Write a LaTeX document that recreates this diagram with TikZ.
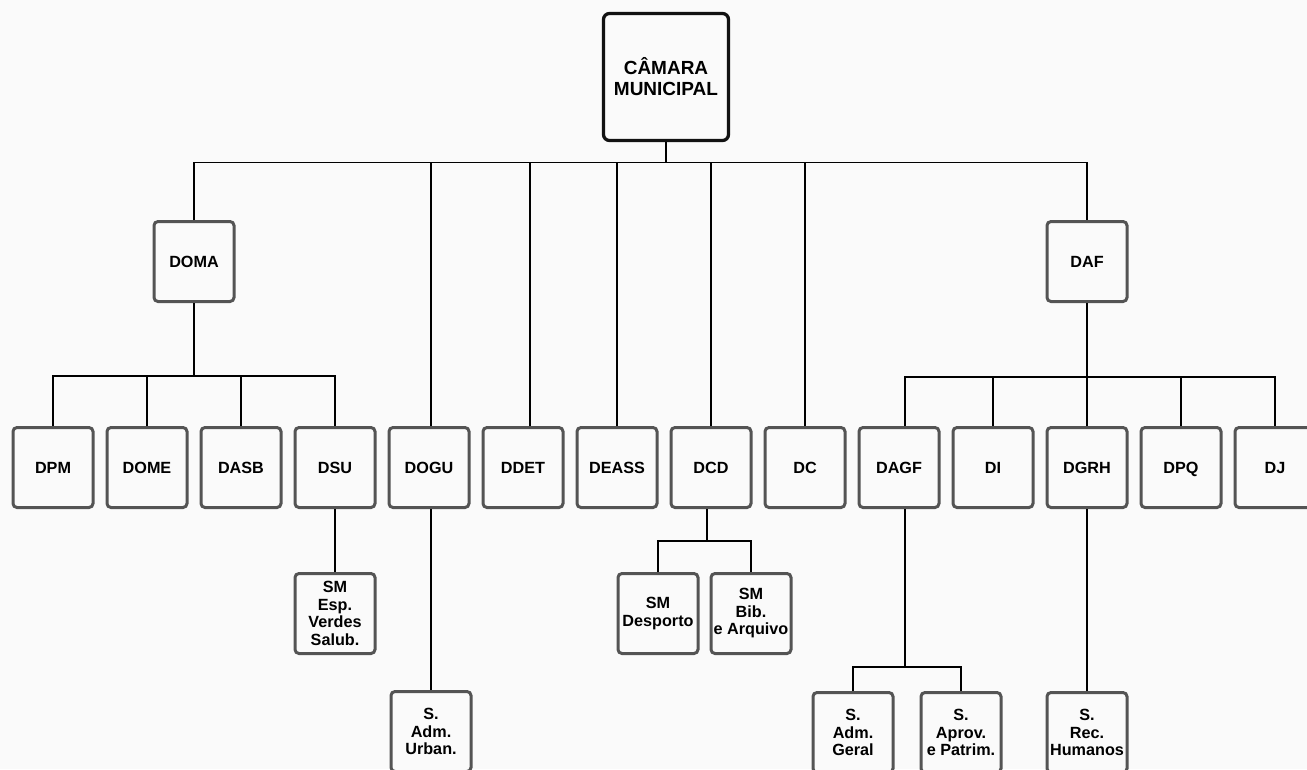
\documentclass[tikz,border=0pt]{standalone}
\usepackage{fontspec}
\setmainfont{Liberation Sans}
\usetikzlibrary{positioning,calc}
\definecolor{cBox}{rgb}{0.33,0.33,0.33}
\definecolor{cTop}{rgb}{0.07,0.07,0.07}
\definecolor{cBg}{rgb}{0.98,0.98,0.98}
\tikzset{mybox/.style={
  shape=rectangle,
  draw=cBox,
  fill=cBg,
  line width=3pt,
  rounded corners=4pt,
  minimum width=80pt,
  minimum height=80pt,
  inner sep=1pt,
  align=center,
  font=\fontsize{16.2}{17.5}\selectfont\bfseries,
  text = black,
  }
}
\tikzset{mytop/.style={
  shape=rectangle,
  draw=cTop,
  fill=cBg,
  line width=3.3pt,
  rounded corners=6pt,
  minimum width=125pt,
  minimum height=127pt,
  inner sep=1pt,
  align=center,
  font=\fontsize{19}{21}\selectfont\bfseries,
  text = black,
  }
}
\tikzset{myline/.style={
  draw=black,
  line width=1.3pt,
  }
}

\begin{document}
\begin{tikzpicture}[x=1pt,y=1pt]
      \useasboundingbox (0,0) rectangle (1307,-769);
      \clip (0,0) rectangle (1307,-769);
      \fill [cBg] (0,0) rectangle (1307,-769);

      \node [mytop] (cm) at (666,-77) {CÂMARA\\MUNICIPAL};
      \node [mybox] (dpm) at (53,-467.5) {DPM};
      \node [right = 11pt of dpm, mybox] (dome) {DOME};
      \node [right = 11pt of dome, mybox] (dasb) {DASB};
      \node [right = 11pt of dasb, mybox] (dsu) {DSU};
      \node [right = 11pt of dsu, mybox] (dogu) {DOGU};
      \node [right = 11pt of dogu, mybox] (ddet) {DDET};
      \node [right = 11pt of ddet, mybox] (deass) {DEASS};
      \node [right = 11pt of deass, mybox] (dcd) {DCD};
      \node [right = 11pt of dcd, mybox] (dc) {DC};
      \node [right = 11pt of dc, mybox] (dagf) {DAGF};
      \node [right = 11pt of dagf, mybox] (di) {DI};
      \node [right = 11pt of di, mybox] (dgrh) {DGRH};
      \node [right = 11pt of dgrh, mybox, text depth=0pt] (dpq) {DPQ};
      \node [right = 11pt of dpq, mybox] (dj) {DJ};
      \node [above = 123pt of dgrh, mybox] (daf) {DAF};
      \node [left = 810pt of daf, mybox] (doma) {DOMA};
      \node [below = 63pt of dsu, mybox] (smesp) {SM\\Esp.\\Verdes\\Salub.};
      \node [below = 181pt of dogu, xshift=2pt, mybox] (sadmu) {S.\\Adm.\\Urban.};
      \node [below = 63pt of dcd, xshift=40pt, mybox] (smbib) {SM\\Bib.\\e Arquivo};
      \node [left = 10pt of smbib, mybox] (smdesp) {SM\\Desporto};
      \node [below = 182pt of dgrh, mybox] (srh) {S.\\Rec.\\Humanos};
      \node [left = 43pt of srh, mybox] (saprov) {S.\\Aprov.\\e Patrim.};
      \node [left = 25pt of saprov, mybox] (sadmg) {S.\\Adm.\\Geral};

      \coordinate [below = 20pt of cm.south] (topbus);
      \coordinate [below = 73pt of doma.south] (omabus);
      \coordinate [below = 74pt of daf.south] (afbus);
      \coordinate [below = 32pt of dcd.south] (cdbus);
      \coordinate [above = 24pt of sadmg.north] (agbus);

      \draw [myline] (cm.south) -- (topbus);
      \draw [myline] (doma.north) |- (daf.north |- topbus) -- (daf.north);
      \draw [myline] (sadmu.north |- dogu.north) -- (sadmu.north |- topbus);
      \draw [myline] ([xshift=7pt]ddet.north) -- ([xshift=7pt]ddet.north |- topbus);
      \draw [myline] (deass.north) -- (deass.north |- topbus);
      \draw [myline] (dcd.north) -- (dcd.north |- topbus);
      \draw [myline] (dc.north) -- (dc.north |- topbus);

      \draw [myline] (doma.south) -- (omabus);
      \draw [myline] (dpm.north) |- (dsu.north |- omabus) -- (dsu.north);
      \draw [myline] (dome.north) -- (dome.north |- omabus);
      \draw [myline] (dasb.north) -- (dasb.north |- omabus);

      \draw [myline] (daf.south) -- (afbus);
      \draw [myline] ([xshift=6pt]dagf.north) |- (dj.north |- afbus) -- (dj.north);
      \draw [myline] (di.north) -- (di.north |- afbus);
      \draw [myline] (dgrh.north) -- (dgrh.north |- afbus);
      \draw [myline] (dpq.north) -- (dpq.north |- afbus);

      \draw [myline] (dsu.south) -- (smesp.north);
      \draw [myline] (dogu.south -| sadmu.north) -- (sadmu.north);
      \draw [myline] ([xshift=-4pt]dcd.south) -- ([xshift=-4pt]dcd.south |- cdbus);
      \draw [myline] (smdesp.north) |- (smbib.north |- cdbus) -- (smbib.north);
      \draw [myline] ([xshift=6pt]dagf.south) -- ([xshift=6pt]dagf.south |- agbus);
      \draw [myline] (sadmg.north) |- (saprov.north |- agbus) -- (saprov.north);
      \draw [myline] (dgrh.south) -- (srh.north);
\end{tikzpicture}
\end{document}
